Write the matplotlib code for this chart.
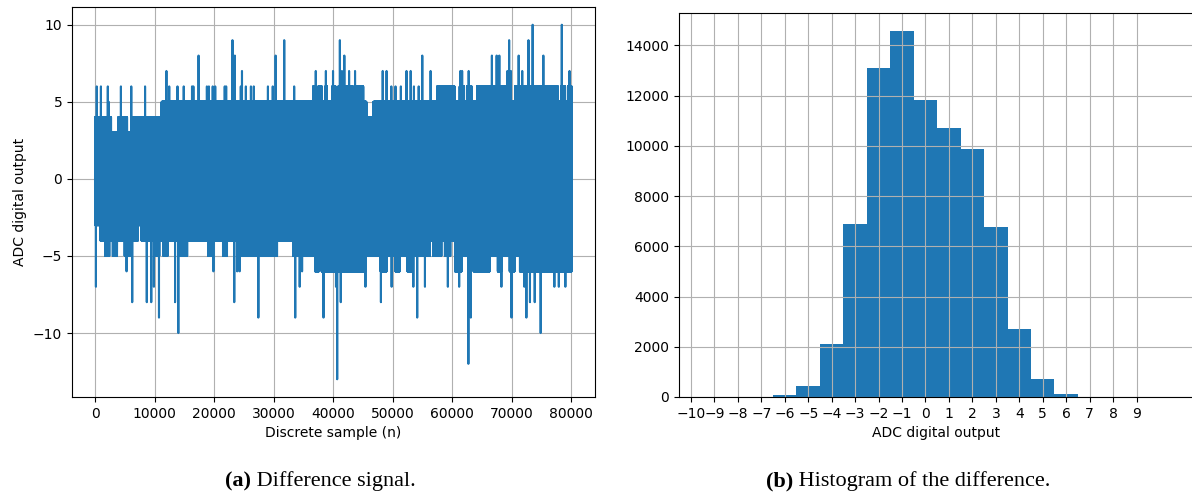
import numpy as np
import matplotlib
matplotlib.use("Agg")
import matplotlib.pyplot as plt
from matplotlib.offsetbox import TextArea, HPacker, AnchoredOffsetbox

# ---------------------------------------------------------------- data
n_samples = 80100

# Level reached by the bulk of the difference signal, as runs (start sample, level)
top_run_start = [0, 2700, 3900, 5400, 6400, 11200,
                 36660, 37240, 37530, 38110, 38690, 38980, 39850, 40430, 40890,
                 43330, 43620, 45070, 45600, 46800,
                 57500, 60400, 61300, 62000, 62500, 63300, 64200, 66000, 66200,
                 69400, 70600, 77800, 78300, 79000, 79500]
top_run_level = [4, 3, 4, 3, 4, 5,
                 6, 5, 6, 5, 6, 5, 6, 5, 6,
                 5, 6, 5, 4, 5,
                 6, 5, 6, 5, 6, 5, 6, 5, 6,
                 5, 6, 5, 6, 5, 6]

bottom_run_start = [0, 900, 1700, 2400, 3000, 3700, 5000, 6000, 7200, 7800,
                    10000, 10800, 11500, 12200, 14000, 15500, 19000, 19600,
                    21500, 22200, 24000, 25800, 30600, 33300, 36100, 37000,
                    37600, 38100, 45400, 48000, 49000, 50500, 51200, 52500,
                    53300, 56300, 56800, 58200, 58800, 59700, 60500, 61600,
                    63600, 66300, 67700, 68300, 69700, 70500, 71400]
bottom_run_level = [-3, -4, -5, -4, -5, -4, -5, -4, -3, -4,
                    -5, -4, -5, -4, -5, -4, -5, -4,
                    -5, -4, -5, -5, -4, -5, -5, -6,
                    -5, -6, -5, -6, -5, -6, -5, -6,
                    -5, -4, -5, -4, -5, -4, -6, -5,
                    -6, -5, -6, -5, -6, -5, -6]

# Isolated excursions (sample index, value)
up_spike_pos = [290, 990, 2150, 2300, 4350, 6090, 8410, 9900, 12000, 12470,
                13860, 14910, 16300, 16530, 17400, 18800, 19140, 19780, 20200,
                21800, 22040, 23100, 23500, 24500, 24700, 25350, 26200, 26680,
                29060, 29870, 30350, 31800, 33470, 37100, 38800, 40000, 41150,
                41500, 41900, 42700, 43700, 48350, 49000, 49800, 50500, 51400,
                52350, 53050, 53600, 54400, 55000, 56400, 61400, 61700, 62800,
                66700, 67500, 67950, 69300, 69600, 69900, 71200, 71800, 72850,
                73550, 75350, 78450, 79750]
up_spike_val = [6, 6, 6, 5, 6, 6, 6, 5, 7, 6,
                6, 6, 6, 6, 8, 6, 6, 6, 6,
                6, 6, 9, 8, 6, 7, 6, 6, 6,
                6, 6, 8, 9, 6, 7, 7, 7, 9,
                7, 8, 7, 7, 7, 7, 6, 6, 6,
                7, 7, 6, 6, 8, 7, 7, 7, 7,
                8, 8, 8, 7, 9, 7, 8, 7, 9,
                10, 8, 10, 7]

down_spike_pos = [150, 5300, 6250, 8700, 9450, 9900, 10750, 13450, 14000, 19900,
                  23400, 23900, 24300, 27450, 33650, 34400, 34800, 38400, 40500,
                  40700, 41300, 45450, 48050, 49850, 53500, 54150, 55450, 59300,
                  61200, 62750, 63150, 68300, 70000, 72150, 72500, 73100, 73900,
                  74900, 77200, 77950, 79050]
down_spike_val = [-7, -6, -8, -8, -8, -7, -9, -8, -10, -6,
                  -8, -6, -6, -9, -9, -7, -6, -9, -7,
                  -13, -8, -7, -8, -7, -7, -9, -7, -7,
                  -7, -12, -9, -7, -9, -7, -9, -8, -8,
                  -10, -7, -7, -7]

# Short repeating texture of the signal between its bounds
core_cycle = [0, -1, 1, -2, 2, -3, 3, -1, 0, 1, -2, 99, -99]

# Histogram of the difference: counts per integer output value
hist_values = [-6, -5, -4, -3, -2, -1, 0, 1, 2, 3, 4, 5, 6]
hist_counts = [93, 450, 2119, 6887, 13086, 14556, 11815, 10702, 9868, 6768,
               2715, 728, 132]
hist_ticks = list(range(-10, 10))

# ---------------------------------------------------------------- signal
idx = np.arange(n_samples)
top = np.array(top_run_level)[np.searchsorted(top_run_start, idx, side="right") - 1]
bottom = np.array(bottom_run_level)[np.searchsorted(bottom_run_start, idx, side="right") - 1]
core = np.array(core_cycle)[idx % len(core_cycle)]
signal = np.clip(core, bottom, top).astype(float)
signal[up_spike_pos] = up_spike_val
signal[down_spike_pos] = down_spike_val

# ---------------------------------------------------------------- figure
fig = plt.figure(figsize=(11.92, 4.97), dpi=100)

ax1 = fig.add_axes([72 / 1192, 100 / 497, (595 - 72) / 1192, 390 / 497])
ax1.plot(idx, signal, color="#1f77b4", lw=1.5)
ax1.set_xlim(-3870, 84030)
ax1.set_ylim(-14.15, 11.15)
ax1.set_xticks(np.arange(0, 80001, 10000))
ax1.set_yticks([-10, -5, 0, 5, 10])
ax1.grid(True)
ax1.set_xlabel("Discrete sample (n)")
ax1.set_ylabel("ADC digital output")

ax2 = fig.add_axes([679 / 1192, 100 / 497, (1194 - 679) / 1192, 384 / 497])
edges = np.arange(hist_values[0] - 0.5, hist_values[-1] + 1.0, 1.0)
ax2.hist(hist_values, bins=edges, weights=hist_counts, color="#1f77b4")
ax2.set_xlim(-10.51, 11.45)
ax2.set_ylim(0, 15285)
ax2.set_xticks(hist_ticks)
ax2.set_yticks(np.arange(0, 14001, 2000))
ax2.grid(True)
ax2.set_xlabel("ADC digital output")


def caption(label, text, xc):
    parts = HPacker(children=[
        TextArea(label, textprops=dict(family="Liberation Serif", weight="bold", size=16)),
        TextArea(text, textprops=dict(family="Liberation Serif", size=16)),
    ], sep=0, pad=0, align="baseline")
    box = AnchoredOffsetbox(loc="center", child=parts, pad=0, borderpad=0,
                            frameon=False, bbox_to_anchor=(xc, 0.032),
                            bbox_transform=fig.transFigure)
    fig.add_artist(box)


caption("(a)", " Difference signal.", 320 / 1192)
caption("(b)", " Histogram of the difference.", 908 / 1192)

fig.savefig("out.png", dpi=100)
